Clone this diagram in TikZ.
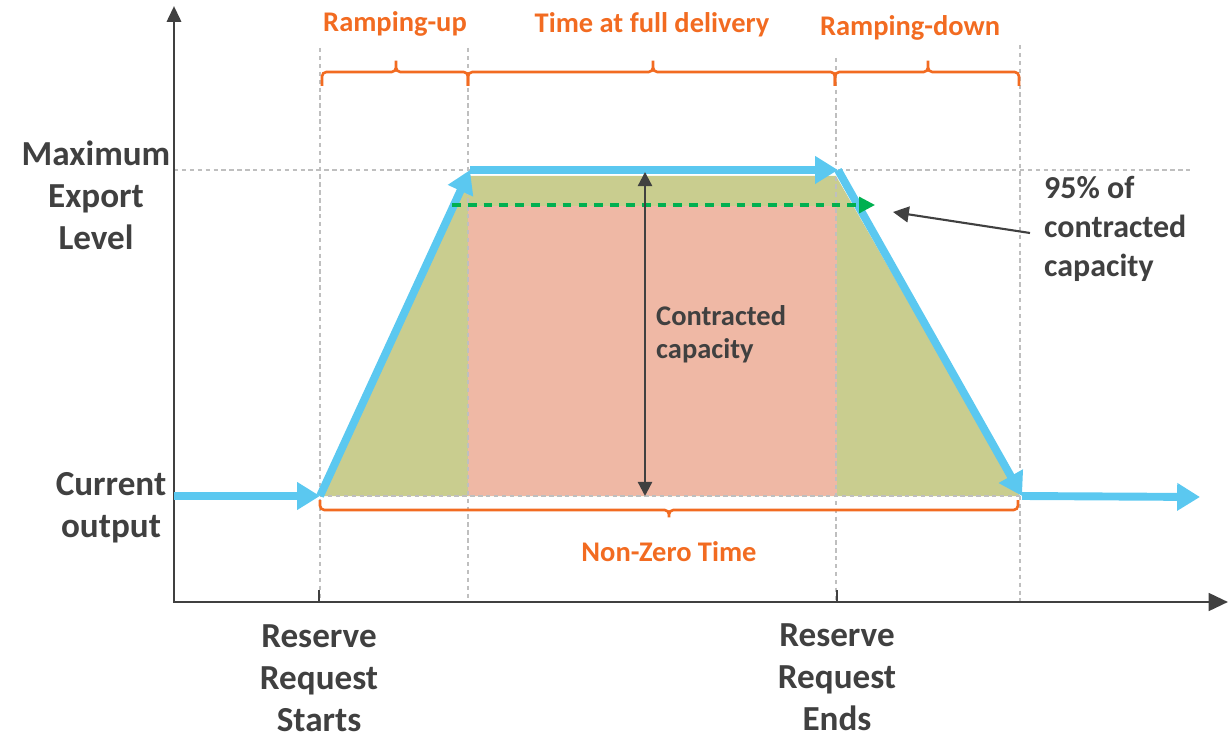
\documentclass[tikz,border=0pt]{standalone}
\usepackage{fontspec}
\setmainfont{Carlito}
\usetikzlibrary{arrows.meta}
\definecolor{txtgrey}{HTML}{404040}
\definecolor{orng}{HTML}{F26B21}
\definecolor{skyblue}{HTML}{5BC8F0}
\definecolor{olivefill}{HTML}{C9CD8F}
\definecolor{salmonfill}{HTML}{EFB8A5}
\definecolor{gridgrey}{HTML}{BFBFBF}
\definecolor{dashgreen}{HTML}{00B050}

\begin{document}
\begin{tikzpicture}[x=0.02cm,y=-0.02cm]
\tikzset{guide/.style={draw=gridgrey,line width=0.8pt,dash pattern=on 2.5pt off 2pt}}
\tikzset{flow/.style={draw=skyblue,line width=4.5pt,-{Triangle[length=13pt,width=15pt]}}}
\tikzset{brc/.style={draw=orng,line width=1.5pt,rounded corners=2.5pt}}
\tikzset{lbl/.style={text=txtgrey,font=\fontsize{20}{24}\selectfont\bfseries,align=center}}
\tikzset{olbl/.style={text=orng,font=\fontsize{16.2}{19}\selectfont\bfseries}}
\useasboundingbox (0,0) rectangle (1229,739);

% profile corners
\coordinate (s0) at (174,496);
\coordinate (s1) at (320,496);
\coordinate (s2) at (470,170);
\coordinate (s3) at (838,170);
\coordinate (s4) at (1022,496);
\coordinate (s5) at (1200,497);

% axes
\coordinate (o) at (174,602);
\coordinate (ytop) at (174,6);
\coordinate (xend) at (1228,602);

% areas
\fill[olivefill] (323,496) -- (470,176) -- (836,176) -- (1020,496) -- cycle;
\fill[salmonfill] (468,206) rectangle (837,496);

% guide lines
\draw[guide] (320,48) -- (320,602);
\draw[guide] (468,48) -- (468,602);
\draw[guide] (836,58) -- (836,602);
\draw[guide] (1020,45) -- (1020,602);
\draw[guide] (174,170) -- (1192,170);
\draw[guide] (320,496) -- (1020,496);

\draw[txtgrey,line width=1.7pt,{Triangle[length=9pt,width=8pt]}-{Triangle[length=11pt,width=10pt]}] (ytop) -- (o) -- (xend);
\draw[txtgrey,line width=1.2pt] (319,590) -- (319,602);
\draw[txtgrey,line width=1.2pt] (837,590) -- (837,602);

% delivered output
\path
(s0) edge [flow] (s1)
(s1) edge [flow] (s2)
(s2) edge [flow] (s3)
(s3) edge [flow] (s4)
(s4) edge [flow] (s5);

\coordinate (g0) at (452,205);
\coordinate (g1) at (875,205);
\draw[dashgreen,line width=1.8pt,dash pattern=on 5pt off 4pt,-{Triangle[length=9pt,width=9pt]}] (g0) -- (g1);

\coordinate (cctop) at (645,172);
\coordinate (ccbot) at (645,496);
\draw[txtgrey,line width=1.3pt,{Triangle[length=8pt,width=8pt]}-{Triangle[length=8pt,width=8pt]}] (cctop) -- (ccbot);

% braces
\draw[brc] (322,86) -- (322,72) -- (396,72) -- (396,58) -- (396,72) -- (468,72) -- (468,86);
\draw[brc] (468,86) -- (468,72) -- (653,72) -- (653,58) -- (653,72) -- (835,72) -- (835,86);
\draw[brc] (835,86) -- (835,72) -- (928,72) -- (928,58) -- (928,72) -- (1019,72) -- (1019,86);
\draw[brc] (320,500) -- (320,510) -- (669,510) -- (669,520) -- (669,510) -- (1018,510) -- (1018,500);

% labels
\node (up) at (395,24) [olbl] {Ramping-up};
\node (full) at (652,25) [olbl] {Time at full delivery};
\node (down) at (910,28) [olbl] {Ramping-down};
\node (nzt) at (669,552) [olbl] {Non-Zero Time};
\node (maxlvl) at (96,195) [lbl] {Maximum\\Export\\Level};
\node (curout) at (111,508) [lbl] {Current\\output};
\node (rstart) at (319,678) [lbl] {Reserve\\Request\\Starts};
\node (rend) at (837,677) [lbl] {Reserve\\Request\\Ends};
\node (cc) at (650,334) [anchor=west,text=txtgrey,font=\fontsize{16.2}{19}\selectfont\bfseries,align=left] {Contracted\\capacity};
\node (pct) at (1038,229) [anchor=west,text=txtgrey,font=\fontsize{18.2}{22}\selectfont\bfseries,align=left] {95\% of\\contracted\\capacity};

\coordinate (pctto) at (893,212);
\draw[txtgrey,line width=1.2pt,-{Triangle[length=9pt,width=9pt]}] (pct.west) ++(-8,4) -- (pctto);
\end{tikzpicture}
\end{document}
